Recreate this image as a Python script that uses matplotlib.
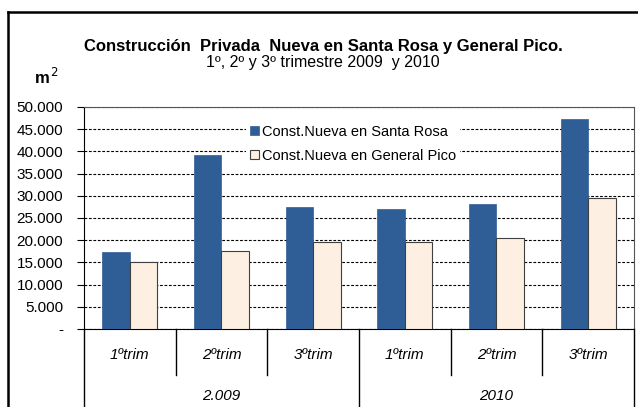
import matplotlib
matplotlib.use("Agg")
import matplotlib.pyplot as plt
from matplotlib.lines import Line2D
import numpy as np

categories = ["1ºtrim", "2ºtrim", "3ºtrim", "1ºtrim", "2ºtrim", "3ºtrim"]
years = ["2.009", "2010"]
santa_rosa = [17300, 39200, 27500, 27000, 28100, 47400]
general_pico = [15200, 17600, 19500, 19500, 20500, 29600]
yticks = [0, 5000, 10000, 15000, 20000, 25000, 30000, 35000, 40000, 45000, 50000]
ytick_labels = ["-", "5.000", "10.000", "15.000", "20.000", "25.000", "30.000",
                "35.000", "40.000", "45.000", "50.000"]
series_names = ["Const.Nueva en Santa Rosa", "Const.Nueva en General Pico"]

W, H = 638, 407
fig = plt.figure(figsize=(W / 100, H / 100), dpi=100)
fig.patch.set_facecolor("white")

sans = ["Liberation Sans", "DejaVu Sans"]

def fx(px):
    return px / W

def fy(py):
    return 1 - py / H

# outer frame
fig.add_artist(Line2D([fx(8), fx(8)], [fy(12), fy(407)], color="black", lw=1.8, transform=fig.transFigure))
fig.add_artist(Line2D([fx(8), fx(638)], [fy(12), fy(12)], color="black", lw=1.8, transform=fig.transFigure))

ax = fig.add_axes([fx(84), fy(329), fx(634) - fx(84), fy(107) - fy(329)])
x = np.arange(len(categories))
w = 0.3
ax.bar(x - w / 2, santa_rosa, w, color="#2F5D96", edgecolor="#2F5D96", lw=0.5,
       label=series_names[0], zorder=3)
ax.bar(x + w / 2, general_pico, w, color="#FDF0E2", edgecolor="#404040", lw=0.8,
       label=series_names[1], zorder=3)

ax.set_xlim(-0.5, len(categories) - 0.5)
ax.set_ylim(0, 50000)
ax.set_yticks(yticks)
ax.set_yticklabels(ytick_labels, fontsize=11, family=sans)
ax.tick_params(axis="y", direction="out", length=5, width=0.8, pad=10)
ax.set_xticks([])
ax.yaxis.grid(True, linestyle=(0, (2.5, 1.5)), color="black", lw=0.8, zorder=1)
ax.set_axisbelow(True)
for s in ["top", "right"]:
    ax.spines[s].set_color("#555555")
    ax.spines[s].set_linewidth(0.8)
ax.spines["left"].set_color("black")
ax.spines["bottom"].set_color("black")

leg = ax.legend(loc="upper left", bbox_to_anchor=(fx(263) - fx(84), 1 - (113 - 107) / 222),
                bbox_transform=ax.transAxes, frameon=True, fancybox=False,
                edgecolor="none", facecolor="white", framealpha=1,
                prop={"family": sans, "size": 10.5}, handlelength=0.6,
                handleheight=0.6, handletextpad=0.2, labelspacing=0.7,
                borderpad=0.3)
leg.set_zorder(5)

# category axis area below
bottom_px = 329
for i in range(len(categories) + 1):
    xp = 84 + i * (634 - 84) / len(categories)
    if i in (0, 3, 6):
        y2 = 407
    else:
        y2 = 375
    fig.add_artist(Line2D([fx(xp), fx(xp)], [fy(bottom_px), fy(y2)], color="black", lw=1.0,
                          transform=fig.transFigure))
for i, c in enumerate(categories):
    xp = 84 + (i + 0.5) * (634 - 84) / len(categories)
    fig.text(fx(xp), fy(355), c, ha="center", va="center", fontsize=11,
             style="italic", family=sans)
for j, yr in enumerate(years):
    xp = 84 + (j * 3 + 1.5) * (634 - 84) / len(categories)
    fig.text(fx(xp), fy(396), yr, ha="center", va="center", fontsize=11,
             style="italic", family=sans)

fig.text(fx(323), fy(46), "Construcción  Privada  Nueva en Santa Rosa y General Pico.",
         ha="center", va="center", fontsize=12, fontweight="bold", family=sans)
fig.text(fx(323), fy(62), "1º, 2º y 3º trimestre 2009  y 2010", ha="center", va="center",
         fontsize=11.5, family=sans)
fig.text(fx(34), fy(77), r"m$^{\,2}$", ha="left", va="center", fontsize=12,
         fontweight="bold", family=sans)

fig.savefig("out.png", dpi=100, facecolor="white")
